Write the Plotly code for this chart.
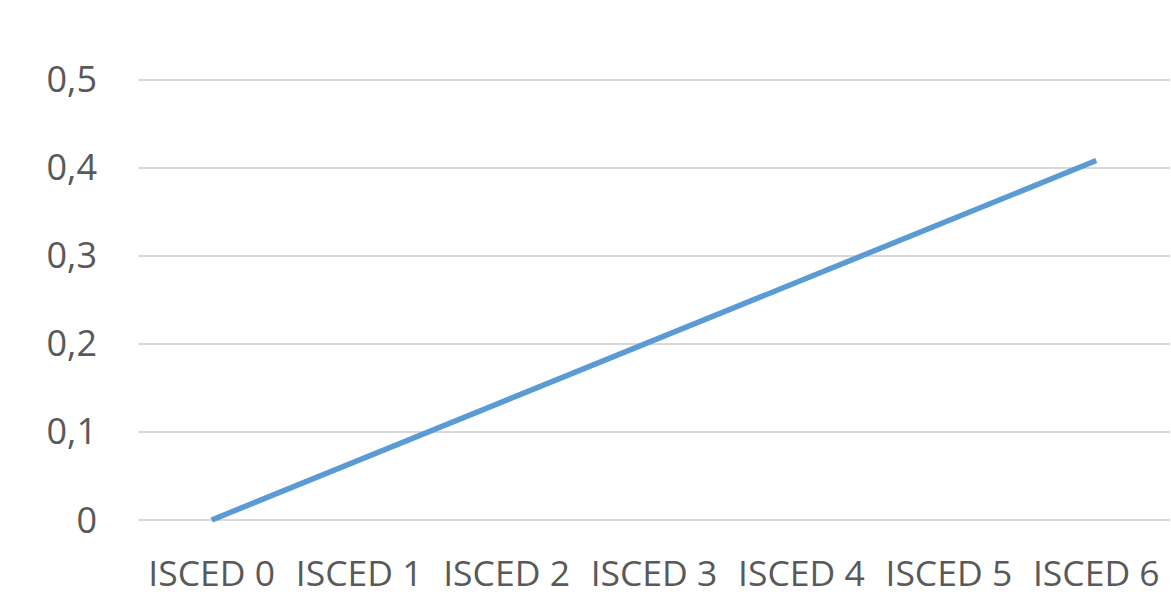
import plotly.graph_objects as go

categories = ["ISCED 0", "ISCED 1", "ISCED 2", "ISCED 3", "ISCED 4", "ISCED 5", "ISCED 6"]
values = [0.0, 0.068, 0.136, 0.204, 0.272, 0.340, 0.408]
y_tickvals = [0, 0.1, 0.2, 0.3, 0.4, 0.5]
y_ticktext = ["0", "0,1", "0,2", "0,3", "0,4", "0,5"]

fig = go.Figure()
fig.add_trace(go.Scatter(
    x=categories, y=values, mode="lines",
    line=dict(color="#5B9BD5", width=5.5),
    cliponaxis=False, showlegend=False,
))

fig.update_layout(
    width=1171, height=601,
    margin=dict(l=138, r=1, t=75.5, b=74),
    paper_bgcolor="white", plot_bgcolor="white",
    font=dict(family="Open Sans", color="#595959", size=36),
    separators=",.",
    xaxis=dict(
        type="category", range=[-0.5, 6.5],
        showgrid=False, showline=False, zeroline=False,
        ticks="", ticklabelstandoff=22,
        tickfont=dict(size=35.5, color="#595959"),
    ),
    yaxis=dict(
        range=[-0.008, 0.504], tickvals=y_tickvals, ticktext=y_ticktext,
        showgrid=True, gridcolor="#D9D9D9", gridwidth=1.5,
        zeroline=False, showline=False, ticks="",
        ticklabelstandoff=40,
        tickfont=dict(size=36, color="#595959"),
    ),
)

fig.write_html("out.html")
